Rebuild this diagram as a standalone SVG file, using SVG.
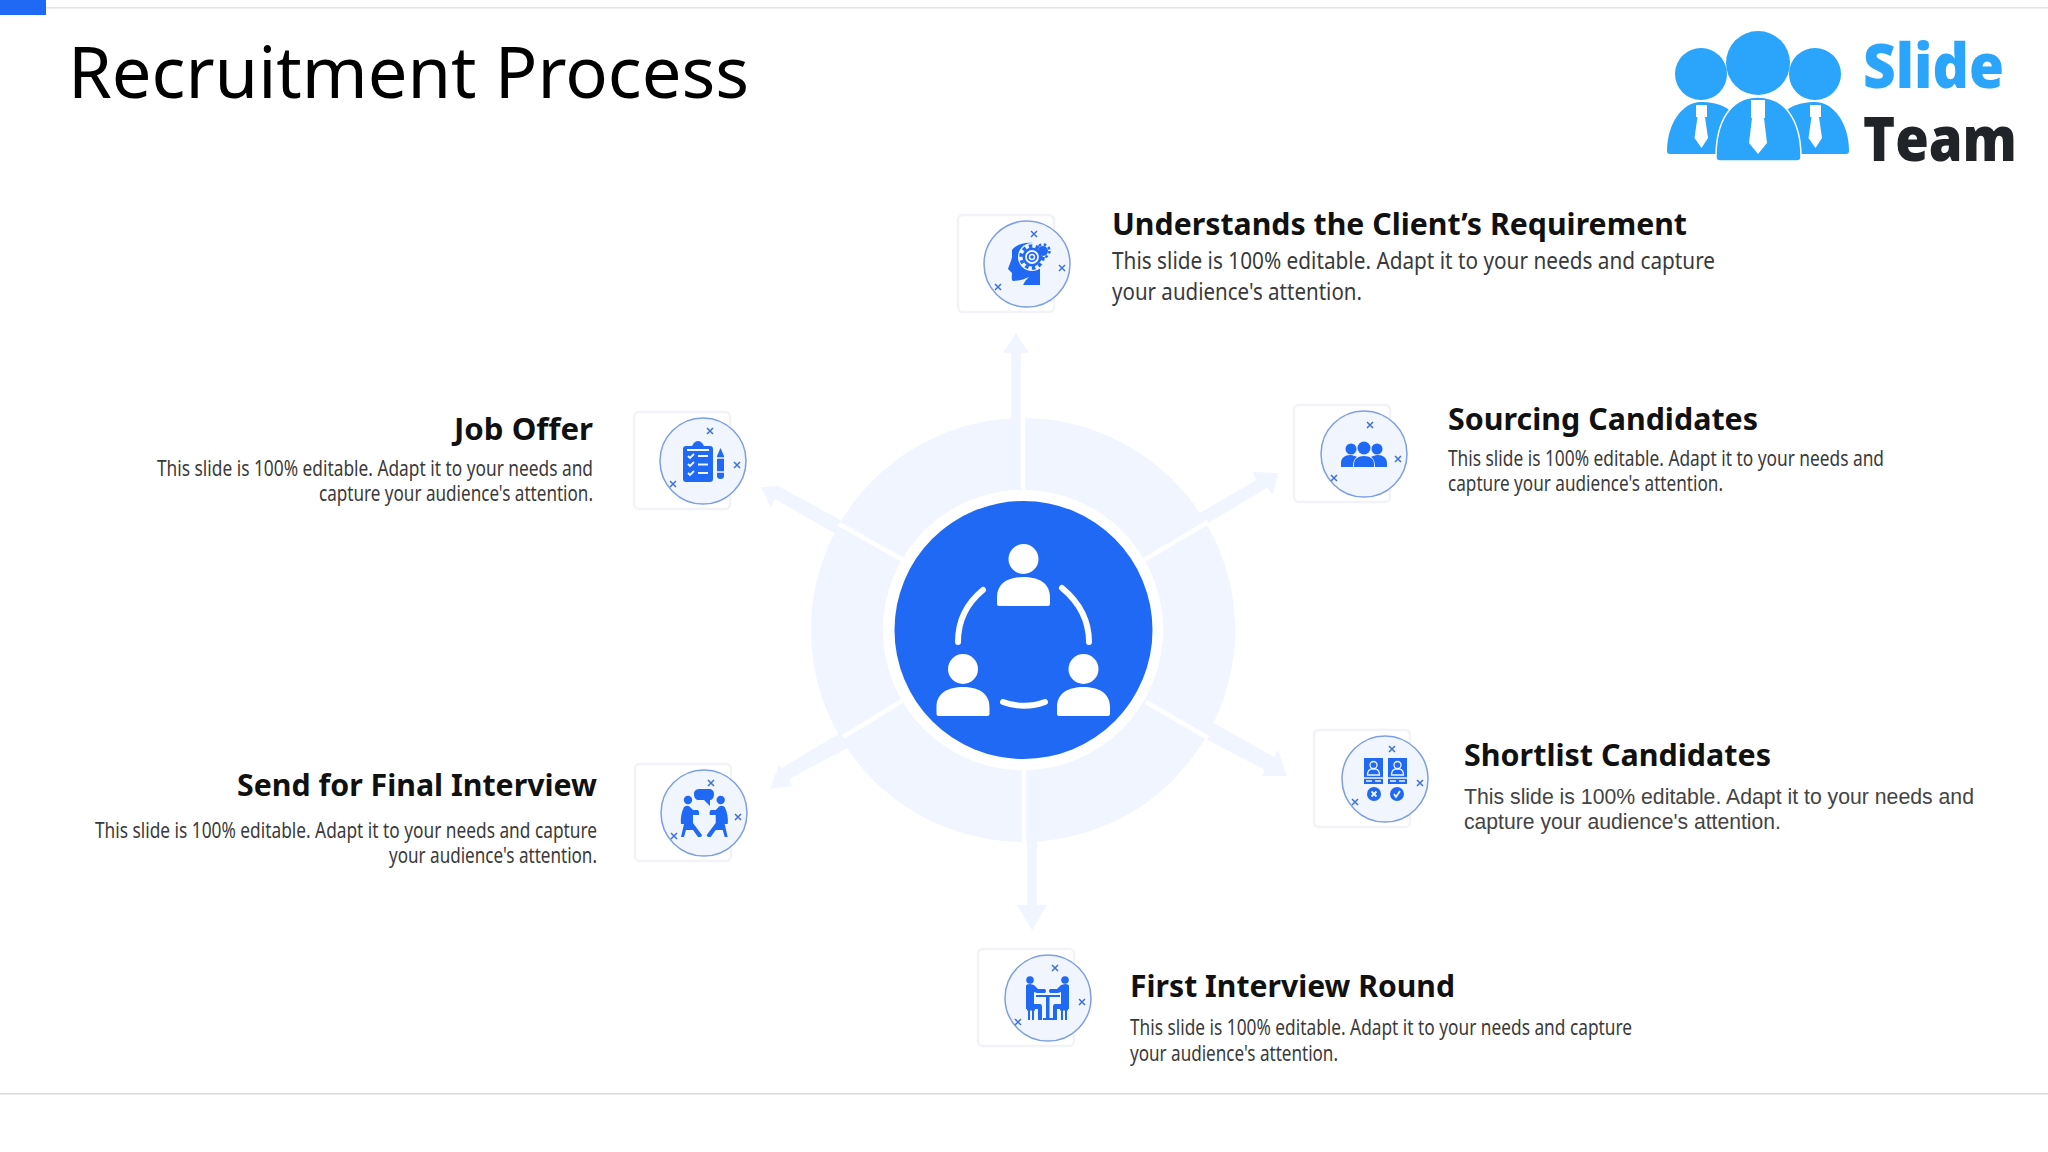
<svg xmlns="http://www.w3.org/2000/svg" xmlns:xlink="http://www.w3.org/1999/xlink" width="2048" height="1152" viewBox="0 0 2048 1152">
<style>
text{font-family:"Noto Sans","Liberation Sans",sans-serif}
.t{font-size:72px;fill:#000}
.h{font-size:31px;font-weight:700;fill:#111}
.b{font-size:24px;fill:#3a3a3a}
.s{font-size:22px}
.b2{font-size:22px;fill:#444;font-family:"Liberation Sans",Arial,sans-serif}
.card{fill:#fff;stroke:#f2f3f6;stroke-width:2.5}
.disc{fill:#f0f5fe;stroke:#7d9fe6;stroke-width:1.5}
.i{fill:#2069f5}
.l{fill:none;stroke:#f0f5fe}
.x{stroke:#3f6fd8;stroke-width:1.5;fill:none}
.a{fill:#f0f5ff}
.g{fill:none;stroke:#fff;stroke-width:4.500}
.o{fill:#fff}
</style>
<defs>
<path id="xm" class="x" d="M-3-3L3 3M-3 3L3-3"/>
<path id="p" d="M-26.500 47V38C-26.500 24-15 18 0 18C15 18 26.500 24 26.500 38V45Q26.500 47 24.500 47H-24.500Q-26.500 47-26.500 45Z"/>
</defs>
<rect width="2048" height="1152" fill="#fff"/>
<rect x="0" y="0" width="46" height="15" fill="#2069f5"/>
<rect x="46" y="7" width="2002" height="1.5" fill="#e4e4e2"/>
<rect x="0" y="1093" width="2048" height="1.5" fill="#d9d9d9"/>
<text class="t" x="68" y="98" textLength="681" lengthAdjust="spacingAndGlyphs">Recruitment Process</text>

<g id="logo">
<g fill="#2ba4fb">
<circle cx="1701" cy="74" r="26"/><circle cx="1758" cy="63" r="32"/><circle cx="1815" cy="74" r="26"/>
<path d="M1667 151C1667 124 1682 102 1701 102C1722 102 1740 112 1740 130V154H1670Q1667 154 1667 151Z"/>
<path d="M1849 151C1849 124 1834 102 1815 102C1794 102 1776 112 1776 130V154H1846Q1849 154 1849 151Z"/>
<path d="M1716 157C1716 122 1730 97 1758 97C1786 97 1801 122 1801 157Q1801 161 1797 161H1720Q1716 161 1716 157Z" stroke="#fff" stroke-width="1.500"/>
</g>
<g fill="#fff">
<path d="M1696 105h11v12h-2l3 21-6.500 10-7-10 3-21h-1.500z"/>
<path d="M1751 100h14v18h-1l3 25-9 11-9-11 3-25h-1z"/>
<path d="M1810 105h11v12h-2l3 21-6.500 10-7-10 3-21h-1.500z"/>
</g>
<text x="1863" y="88" font-size="62" font-weight="800" fill="#2ba4fb" textLength="141" lengthAdjust="spacingAndGlyphs" style="font-family:'Open Sans','Noto Sans',sans-serif">Slide</text>
<text x="1863" y="161" font-size="62" font-weight="800" fill="#202428" textLength="154" lengthAdjust="spacingAndGlyphs" style="font-family:'Open Sans','Noto Sans',sans-serif">Team</text>
</g>

<g id="connectors">
<circle cx="1023" cy="630" r="176" fill="none" stroke="#f0f5ff" stroke-width="72"/>
<g class="a">
<path d="M1011 420V353H1003L1016 333L1029 353H1021V420Z"/>
<path d="M1027 840V905H1017L1032 930L1047 905H1037V840Z"/>
<path d="M1198 514L1256 480L1253 472L1278 473L1273 495L1267 488L1208 523Z"/>
<path d="M1214 723L1274 757L1278 750L1287 776L1262 776L1265 770L1204 738Z"/>
<path d="M844 522L782 488L779 486L761 487L771 508L775 499L834 533Z"/>
<path d="M840 733L782 768L779 765L770 789L792 786L789 779L849 747Z"/>
</g>
<path class="g" d="M1023 414V492M1024 770V846M1144 560L1208 522M1146 702L1208 738M903 560L839 524M905 699L843 737"/>
</g>

<g id="hub">
<circle cx="1023" cy="630" r="140" fill="#fff"/>
<circle cx="1023.500" cy="630" r="129" fill="#2069f5"/>
<g fill="#fff">
<circle cx="1023.500" cy="559" r="15"/>
<use xlink:href="#p" x="1023.500" y="559"/>
<circle cx="963" cy="669" r="15"/>
<use xlink:href="#p" x="963" y="669"/>
<circle cx="1083.500" cy="669" r="15"/>
<use xlink:href="#p" x="1083.500" y="669"/>
</g>
<g fill="none" stroke="#fff" stroke-width="6" stroke-linecap="round">
<path d="M958 642C958 620 967 603 983 590"/>
<path d="M1089 642C1089 620 1080 603 1062 588"/>
<path d="M1003 702C1016 707 1032 707 1045 702"/>
</g>
</g>

<g id="n1">
<rect class="card" x="958" y="215" width="96" height="97" rx="5"/>
<circle class="disc" cx="1027" cy="264" r="43"/>
<use xlink:href="#xm" x="1034" y="234"/><use xlink:href="#xm" x="1062" y="268"/><use xlink:href="#xm" x="998" y="287"/>
<path class="i" d="M1012 250C1016 245 1024 242 1033 243L1040 262V285H1023C1025 281 1027 279 1029 277C1024 279 1020 281 1013 281C1011 280 1012 275 1012 273L1008 269C1009 265 1011 262 1012 257Z"/>
<circle cx="1032" cy="257" r="14" fill="#f0f5fe"/>
<circle cx="1032" cy="257" r="9.500" class="i"/>
<circle cx="1032" cy="257" r="11" fill="none" stroke="#2069f5" stroke-width="3.500" stroke-dasharray="3.500 3.400"/>
<circle cx="1043" cy="251" r="5" class="i"/>
<circle cx="1043" cy="251" r="6.500" fill="none" stroke="#2069f5" stroke-width="2.500" stroke-dasharray="2.500 2.600"/>
<circle cx="1032" cy="257" r="6" class="l" stroke-width="1.800"/>
<circle cx="1032" cy="257" r="2.500" class="l" stroke-width="1.500"/>
<text class="h" x="1112" y="235" textLength="575" lengthAdjust="spacingAndGlyphs">Understands the Client’s Requirement</text>
<text class="b" x="1112" y="269" textLength="603" lengthAdjust="spacingAndGlyphs">This slide is 100% editable. Adapt it to your needs and capture</text>
<text class="b" x="1112" y="300" textLength="250" lengthAdjust="spacingAndGlyphs">your audience's attention.</text>
</g>

<g id="n2">
<rect class="card" x="1294" y="405" width="96" height="97" rx="5"/>
<circle class="disc" cx="1364" cy="454" r="43"/>
<use xlink:href="#xm" x="1370" y="425"/><use xlink:href="#xm" x="1398" y="459"/><use xlink:href="#xm" x="1334" y="478"/>
<g class="i">
<circle cx="1351" cy="449" r="5.500"/><circle cx="1364" cy="448" r="6.500"/><circle cx="1377" cy="449" r="5.500"/>
<path d="M1341 467V463C1341 458 1345 455 1350 455C1353 455 1355 456 1357 457C1354 459 1353 462 1353 467Z"/>
<path d="M1387 467V463C1387 458 1383 455 1378 455C1375 455 1373 456 1371 457C1374 459 1375 462 1375 467Z"/>
<path d="M1354 467V464C1354 459 1358 456 1364 456C1370 456 1374 459 1374 464V467Z"/>
</g>
<text class="h" x="1448" y="430" textLength="310" lengthAdjust="spacingAndGlyphs">Sourcing Candidates</text>
<text class="b s" x="1448" y="466" textLength="436" lengthAdjust="spacingAndGlyphs">This slide is 100% editable. Adapt it to your needs and</text>
<text class="b s" x="1448" y="491" textLength="275" lengthAdjust="spacingAndGlyphs">capture your audience's attention.</text>
</g>

<g id="n3">
<rect class="card" x="1314" y="730" width="96" height="97" rx="5"/>
<circle class="disc" cx="1385" cy="779" r="43"/>
<use xlink:href="#xm" x="1392" y="749"/><use xlink:href="#xm" x="1420" y="783"/><use xlink:href="#xm" x="1355" y="802"/>
<g class="i">
<rect x="1364" y="758" width="19" height="26"/><rect x="1388" y="758" width="19" height="26"/>
<circle cx="1374" cy="794" r="7"/><circle cx="1397" cy="794" r="7"/>
</g>
<g class="l" stroke-width="1.300">
<circle cx="1373.500" cy="765" r="3.500"/><path d="M1367.500 775Q1367.500 770 1371 769H1376Q1379.500 770 1379.500 775Z"/>
<circle cx="1397.500" cy="765" r="3.500"/><path d="M1391.500 775Q1391.500 770 1395 769H1400Q1403.500 770 1403.500 775Z"/>
<path d="M1364 778H1383M1388 778H1407"/>
<path d="M1366 781H1372M1375 781H1381M1390 781H1396M1399 781H1405"/>
<path d="M1371.500 791.500L1376.500 796.500M1376.500 791.500L1371.500 796.500" stroke-width="1.800"/>
<path d="M1394 794L1396 797L1400 791" stroke-width="1.800"/>
</g>
<text class="h" x="1464" y="766" textLength="307" lengthAdjust="spacingAndGlyphs">Shortlist Candidates</text>
<text class="b2" x="1464" y="804" textLength="510" lengthAdjust="spacingAndGlyphs">This slide is 100% editable. Adapt it to your needs and</text>
<text class="b2" x="1464" y="829" textLength="317" lengthAdjust="spacingAndGlyphs">capture your audience's attention.</text>
</g>

<g id="n4">
<rect class="card" x="978" y="949" width="96" height="97" rx="5"/>
<circle class="disc" cx="1048" cy="998" r="43"/>
<use xlink:href="#xm" x="1055" y="968"/><use xlink:href="#xm" x="1082" y="1002"/><use xlink:href="#xm" x="1018" y="1022"/>
<g class="i">
<g id="n4a">
<circle cx="1030" cy="980" r="3.800"/>
<path d="M1026 986Q1026 984 1030 984L1034 985L1038 989H1045Q1047 991 1045 993H1037L1034 992V1004H1040Q1042 1004 1042 1007V1020H1038V1009H1026Z"/>
<rect x="1027" y="1008" width="8" height="2.500"/><rect x="1028" y="1010" width="2" height="10"/><rect x="1032" y="1010" width="2" height="10"/>
</g>
<g transform="translate(2095 0) scale(-1 1)">
<circle cx="1030" cy="980" r="3.800"/>
<path d="M1026 986Q1026 984 1030 984L1034 985L1038 989H1045Q1047 991 1045 993H1037L1034 992V1004H1040Q1042 1004 1042 1007V1020H1038V1009H1026Z"/>
<rect x="1027" y="1008" width="8" height="2.500"/><rect x="1028" y="1010" width="2" height="10"/><rect x="1032" y="1010" width="2" height="10"/>
</g>
<rect x="1036" y="995" width="24" height="2"/><rect x="1046" y="997" width="3.500" height="21"/><rect x="1043" y="1018" width="10" height="2"/>
</g>
<text class="h" x="1130" y="997" textLength="325" lengthAdjust="spacingAndGlyphs">First Interview Round</text>
<text class="b s" x="1130" y="1035" textLength="502" lengthAdjust="spacingAndGlyphs">This slide is 100% editable. Adapt it to your needs and capture</text>
<text class="b s" x="1130" y="1061" textLength="208" lengthAdjust="spacingAndGlyphs">your audience's attention.</text>
</g>

<g id="n5">
<rect class="card" x="635" y="764" width="96" height="97" rx="5"/>
<circle class="disc" cx="704" cy="813" r="43"/>
<use xlink:href="#xm" x="711" y="783"/><use xlink:href="#xm" x="738" y="817"/><use xlink:href="#xm" x="674" y="836"/>
<g class="i">
<path d="M694 794C694 790 697 789 700 789H709C712 789 714 791 714 794C714 798 712 800 710 800V806L704 800H699C696 800 694 798 694 794Z"/>
<g>
<circle cx="688" cy="800" r="4.200"/>
<path d="M684 807Q688 804 691 808L693 810H698Q700 812 699 815H693V823L702 835Q702 837 700 837H698L693 830H686L684 837H681L684 824H681Q680 815 684 807Z"/>
</g>
<g transform="translate(1408.700 0) scale(-1 1)">
<circle cx="688" cy="800" r="4.200"/>
<path d="M684 807Q688 804 691 808L693 810H698Q700 812 699 815H693V823L702 835Q702 837 700 837H698L693 830H686L684 837H681L684 824H681Q680 815 684 807Z"/>
</g>
</g>
<text class="h" x="597" y="796" text-anchor="end" textLength="360" lengthAdjust="spacingAndGlyphs">Send for Final Interview</text>
<text class="b s" x="597" y="838" text-anchor="end" textLength="502" lengthAdjust="spacingAndGlyphs">This slide is 100% editable. Adapt it to your needs and capture</text>
<text class="b s" x="597" y="863" text-anchor="end" textLength="208" lengthAdjust="spacingAndGlyphs">your audience's attention.</text>
</g>

<g id="n6">
<rect class="card" x="634" y="412" width="96" height="97" rx="5"/>
<circle class="disc" cx="703" cy="461" r="43"/>
<use xlink:href="#xm" x="710" y="431"/><use xlink:href="#xm" x="737" y="465"/><use xlink:href="#xm" x="673" y="484"/>
<g class="i">
<path d="M686 446H692C694 442 696 441 698 441C700 441 702 442 704 446H710Q713 446 713 449V479Q713 482 710 482H686Q683 482 683 479V449Q683 446 686 446Z"/>
<path d="M717 456L720.500 448L724 456V476Q724 479 720.500 479Q717 479 717 476Z"/>
</g>
<path class="l" stroke-width="1.800" d="M688 456L690 458L694 454M688 464L690 466L694 462M688 473L690 475L694 471M698 456H708M698 464.500H708M698 473H708M687 450H709"/>
<path class="l" stroke-width="1.500" d="M717 458H724M717 472H724"/>
<text class="h" x="593" y="440" text-anchor="end" textLength="139" lengthAdjust="spacingAndGlyphs">Job Offer</text>
<text class="b s" x="593" y="476" text-anchor="end" textLength="436" lengthAdjust="spacingAndGlyphs">This slide is 100% editable. Adapt it to your needs and</text>
<text class="b s" x="593" y="501" text-anchor="end" textLength="274" lengthAdjust="spacingAndGlyphs">capture your audience's attention.</text>
</g>
</svg>
